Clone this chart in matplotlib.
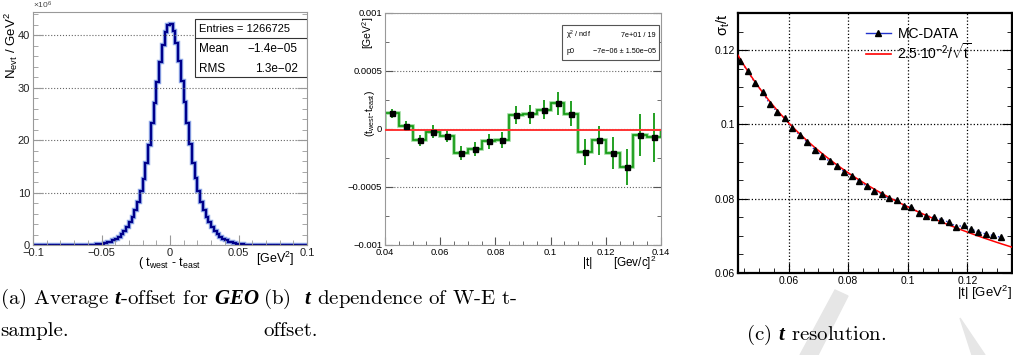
import matplotlib
matplotlib.use("Agg")
import matplotlib.pyplot as plt
from matplotlib.patches import Rectangle, Polygon
from matplotlib.lines import Line2D
from matplotlib.ticker import MultipleLocator, FuncFormatter
import numpy as np

plt.rcParams["font.family"] = ["Liberation Sans", "DejaVu Sans"]
plt.rcParams["mathtext.fontset"] = "custom"
plt.rcParams["mathtext.rm"] = "Liberation Sans"
plt.rcParams["mathtext.it"] = "Liberation Sans:italic"
plt.rcParams["mathtext.bf"] = "Liberation Sans:bold"
plt.rcParams["mathtext.bfit"] = "Liberation Serif:italic:bold"

# (a) histogram of t_west - t_east, units of 10^6 / GeV^2, 100 bins on [-0.1, 0.1]
hist_edges = np.linspace(-0.1, 0.1, 101)
hist_left = [0, 0, 0, 0, 0, 0, 0, 0, 0, 0, 0, 0, 0, 0, 0, 0, 0,
             0.01, 0.01, 0.02, 0.03, 0.05, 0.08, 0.12, 0.17, 0.25, 0.35, 0.48, 0.66, 0.9,
             1.2, 1.6, 2.1, 2.7, 3.4, 4.3, 5.3, 6.6, 8.2, 10.2, 12.6, 15.6, 19.0, 23.2,
             27.0, 31.0, 34.8, 38.2, 40.6, 42.0]
hist_right = [42.2, 40.8, 38.4, 35.0, 31.2, 27.2, 23.3, 19.2, 15.7, 12.7, 10.2, 8.2,
              6.6, 5.3, 4.3, 3.4, 2.7, 2.1, 1.6, 1.2, 0.9, 0.66, 0.48, 0.35, 0.25, 0.17,
              0.12, 0.08, 0.05, 0.03, 0.02, 0.01, 0.01,
              0, 0, 0, 0, 0, 0, 0, 0, 0, 0, 0, 0, 0, 0, 0, 0, 0]
hist_values = hist_left + hist_right

# (b) W-E offset vs |t|
b_edges = np.linspace(0.04, 0.14, 21)
b_centers = [0.0425, 0.0475, 0.0525, 0.0575, 0.0625, 0.0675, 0.0725, 0.0775, 0.0825, 0.0875,
             0.0925, 0.0975, 0.1025, 0.1075, 0.1125, 0.1175, 0.1225, 0.1275, 0.1325, 0.1375]
b_values = [1.36e-4, 0.26e-4, -0.98e-4, -0.23e-4, -0.61e-4, -2.05e-4, -1.76e-4, -1.07e-4,
            -0.95e-4, 1.21e-4, 1.27e-4, 1.68e-4, 2.2e-4, 1.33e-4, -1.97e-4, -0.95e-4,
            -2.08e-4, -3.24e-4, -0.52e-4, -0.72e-4]
b_errors = [0.4e-4, 0.45e-4, 0.5e-4, 0.55e-4, 0.5e-4, 0.62e-4, 0.6e-4, 0.65e-4, 0.7e-4,
            0.75e-4, 0.82e-4, 0.85e-4, 0.95e-4, 1.05e-4, 1.1e-4, 1.25e-4, 1.4e-4, 1.55e-4,
            1.85e-4, 2.1e-4]
b_fit_p0 = -7e-6

# (c) t resolution
c_t = [0.04375, 0.04625, 0.04875, 0.05125, 0.05375, 0.05625, 0.05875, 0.06125, 0.06375,
       0.06625, 0.06875, 0.07125, 0.07375, 0.07625, 0.07875, 0.08125, 0.08375, 0.08625,
       0.08875, 0.09125, 0.09375, 0.09625, 0.09875, 0.10125, 0.10375, 0.10625, 0.10875,
       0.11125, 0.11375, 0.11625, 0.11875, 0.12125, 0.12375, 0.12625, 0.12875, 0.13125]
c_sigma = [0.1171, 0.1145, 0.1111, 0.1087, 0.1054, 0.1034, 0.1016, 0.0991, 0.0971, 0.0952,
           0.0932, 0.0915, 0.0901, 0.0888, 0.0872, 0.0862, 0.0847, 0.0833, 0.0822, 0.0812,
           0.0801, 0.0796, 0.0781, 0.0779, 0.0761, 0.0754, 0.0750, 0.0744, 0.0737, 0.0725,
           0.0728, 0.0718, 0.0711, 0.0705, 0.0701, 0.0696]
c_fit_coef = 2.46e-2   # fitted value, shown rounded as 2.5e-2 in the legend

W, H = 1013, 355
fig = plt.figure(figsize=(W / 100, H / 100), dpi=100)


def px_axes(l, t, r, b):
    return fig.add_axes([l / W, 1 - b / H, (r - l) / W, (b - t) / H])


def root_ticks(ax, size, major=7, minor=3.5):
    ax.tick_params(which="both", direction="in", top=False, right=True, labelsize=size, pad=2)
    ax.tick_params(which="major", length=major)
    ax.tick_params(which="minor", length=minor)


fmt = FuncFormatter(lambda v, p: ("%g" % v).replace("-", "\u2212"))

# ---- panel a
ax1 = px_axes(33, 12, 307, 245)
ax1.stairs(hist_values, hist_edges, color="#8fa8e8", lw=3.2)
ax1.stairs(hist_values, hist_edges, color="#00008b", lw=1.6)
ax1.set_xlim(-0.1, 0.1)
ax1.set_ylim(0, 44.4)
ax1.xaxis.set_major_locator(MultipleLocator(0.05))
ax1.xaxis.set_minor_locator(MultipleLocator(0.01))
ax1.yaxis.set_major_locator(MultipleLocator(10))
ax1.yaxis.set_minor_locator(MultipleLocator(2))
ax1.xaxis.set_major_formatter(fmt)
ax1.yaxis.grid(True, ls=":", color="#666666", lw=0.8)
root_ticks(ax1, 8)
for s in ax1.spines.values():
    s.set_color("#999999")
ax1.tick_params(colors="#222222", which="both")
ax1.tick_params(which="both", color="#999999")
ax1.text(0.0, 1.005, "\u00d710$^6$", transform=ax1.transAxes, fontsize=6, color="#444444",
         ha="left", va="bottom")
fig.text(11 / W, 1 - 12 / H, r"$\mathrm{N_{evt}}$ / GeV$^2$", rotation=90, ha="center",
         va="top", fontsize=9.5)
fig.text(138 / W, 1 - 263 / H, r"( t$_{\mathrm{west}}$ - t$_{\mathrm{east}}$", ha="left",
         va="center", fontsize=9)
fig.text(256 / W, 1 - 259 / H, r"[GeV$^2$]", ha="left", va="center", fontsize=9)
ax1.add_patch(Rectangle((0.591, 0.721), 0.409, 0.249, transform=ax1.transAxes,
                        facecolor="white", edgecolor="#333333", lw=0.8, zorder=5))
ax1.plot([0.591, 1.0], [0.888, 0.888], transform=ax1.transAxes, color="#333333", lw=0.8,
         zorder=6)
ax1.text(0.606, 0.927, "Entries = 1266725", transform=ax1.transAxes, fontsize=8,
         va="center", zorder=7)
ax1.text(0.606, 0.841, "Mean", transform=ax1.transAxes, fontsize=8.5, va="center", zorder=7)
ax1.text(0.966, 0.841, "\u22121.4e\u221205", transform=ax1.transAxes, fontsize=8.5,
         va="center", ha="right", zorder=7)
ax1.text(0.606, 0.755, "RMS", transform=ax1.transAxes, fontsize=8.5, va="center", zorder=7)
ax1.text(0.966, 0.755, "1.3e\u221202", transform=ax1.transAxes, fontsize=8.5, va="center",
         ha="right", zorder=7)

# ---- panel b
ax2 = px_axes(385, 13, 661, 245)
ax2.stairs(b_values, b_edges, color="#9ad99a", lw=2.6)
ax2.stairs(b_values, b_edges, color="#119911", lw=1.2)
ax2.errorbar(b_centers, b_values, yerr=b_errors, fmt="none", ecolor="#119911", elinewidth=1.3)
ax2.plot(b_centers, b_values, "s", color="black", ms=3.6, zorder=4)
ax2.axhline(b_fit_p0, color="#ff3333", lw=1.4, zorder=3)
ax2.set_xlim(0.04, 0.14)
ax2.set_ylim(-0.001, 0.001)
ax2.xaxis.set_major_locator(MultipleLocator(0.02))
ax2.xaxis.set_minor_locator(MultipleLocator(0.005))
ax2.yaxis.set_major_locator(MultipleLocator(0.0005))
ax2.yaxis.set_minor_locator(MultipleLocator(0.00025))
ax2.xaxis.set_major_formatter(fmt)
ax2.yaxis.set_major_formatter(fmt)
ax2.yaxis.grid(True, ls=":", color="#666666", lw=0.8)
root_ticks(ax2, 6.8, major=6, minor=3)
for s in ax2.spines.values():
    s.set_color("#999999")
ax2.tick_params(which="both", color="#555555")
fig.text(370 / W, 1 - 114 / H, r"(t$_{\mathrm{west}}$-t$_{\mathrm{east}}$)", rotation=90,
         ha="center", va="center", fontsize=7.5)
fig.text(368 / W, 1 - 33 / H, r"[GeV$^2$]", rotation=90, ha="center", va="center",
         fontsize=7.5)
fig.text(588 / W, 1 - 263 / H, "|t|", ha="center", va="center", fontsize=8.5)
fig.text(613 / W, 1 - 263 / H, r"[Gev/c]$^2$", ha="left", va="center", fontsize=8.5)
ax2.add_patch(Rectangle((0.641, 0.797), 0.352, 0.151, transform=ax2.transAxes,
                        facecolor="white", edgecolor="#555555", lw=0.8, zorder=5))
ax2.text(0.656, 0.905, "\u03c7$^2$ / ndf", transform=ax2.transAxes, fontsize=5.2,
         va="center", zorder=7)
ax2.text(0.982, 0.905, "7e+01 / 19", transform=ax2.transAxes, fontsize=5.2, va="center",
         ha="right", zorder=7)
ax2.text(0.656, 0.832, "p0", transform=ax2.transAxes, fontsize=5.2, va="center", zorder=7)
ax2.text(0.982, 0.832, "\u22127e\u221206 \u00b1 1.50e\u221205", transform=ax2.transAxes,
         fontsize=5.2, va="center", ha="right", zorder=7)

# ---- panel c
ax3 = px_axes(738, 13, 1012, 273)
t_line = np.linspace(0.043, 0.135, 200)
ax3.plot(t_line, c_fit_coef / np.sqrt(t_line), color="red", lw=1.1, zorder=3)
ax3.plot(c_t, c_sigma, ls=":", color="#2233cc", lw=1.0, zorder=2)
ax3.plot(c_t, c_sigma, "^", color="black", ms=4, zorder=4)
ax3.set_xlim(0.043, 0.135)
ax3.set_ylim(0.06, 0.13)
ax3.xaxis.set_major_locator(MultipleLocator(0.02))
ax3.xaxis.set_minor_locator(MultipleLocator(0.005))
ax3.yaxis.set_major_locator(MultipleLocator(0.02))
ax3.yaxis.set_minor_locator(MultipleLocator(0.005))
ax3.xaxis.set_major_formatter(fmt)
ax3.yaxis.set_major_formatter(fmt)
ax3.grid(True, which="major", ls=":", color="black", lw=0.9)
root_ticks(ax3, 7.5, major=7, minor=3.5)
for s in ax3.spines.values():
    s.set_linewidth(1.6)
handles = [Line2D([], [], color="#2233cc", marker="^", mfc="black", mec="black", ms=4, lw=1),
           Line2D([], [], color="red", lw=1.2)]
ax3.legend(handles, ["MC-DATA", r"2.5$\cdot$10$^{-2}$/$\sqrt{\mathrm{t}}$"],
           loc="upper left", bbox_to_anchor=(0.43, 0.985), frameon=False, fontsize=10,
           handlelength=1.8, borderpad=0.2, labelspacing=0.1, handletextpad=0.5)
fig.text(723 / W, 1 - 13 / H, r"$\mathrm{\sigma_t}$/t", rotation=90, ha="center", va="top",
         fontsize=10.5)
fig.text(1012 / W, 1 - 293 / H, r"|t| [GeV$^2$]", ha="right", va="center", fontsize=9.5)

# ---- captions
cap = dict(fontsize=15, family="cmr10", va="center", ha="left")
fig.text(0 / W, 1 - 299 / H, r"(a) Average $\mathbfit{t}$-offset for $\mathbfit{GEO}$", **cap)
fig.text(0 / W, 1 - 331 / H, "sample.", **cap)
fig.text(263 / W, 1 - 299 / H, r"(b)  $\mathbfit{t}$ dependence of W-E t-", **cap)
fig.text(263 / W, 1 - 331 / H, "offset.", **cap)
fig.text(746 / W, 1 - 335 / H, r"(c) $\mathbfit{t}$ resolution.", **cap)

# faint watermark pieces
fig.patches.append(Polygon([(800 / W, 1 - 355 / H), (835 / W, 1 - 290 / H),
                            (848 / W, 1 - 296 / H), (818 / W, 1 - 355 / H)],
                           closed=True, transform=fig.transFigure, color="#e6e6e6", zorder=0))
fig.patches.append(Polygon([(960 / W, 1 - 318 / H), (985 / W, 1 - 355 / H),
                            (972 / W, 1 - 355 / H)],
                           closed=True, transform=fig.transFigure, color="#e6e6e6", zorder=0))

fig.savefig("out.png", dpi=100)
